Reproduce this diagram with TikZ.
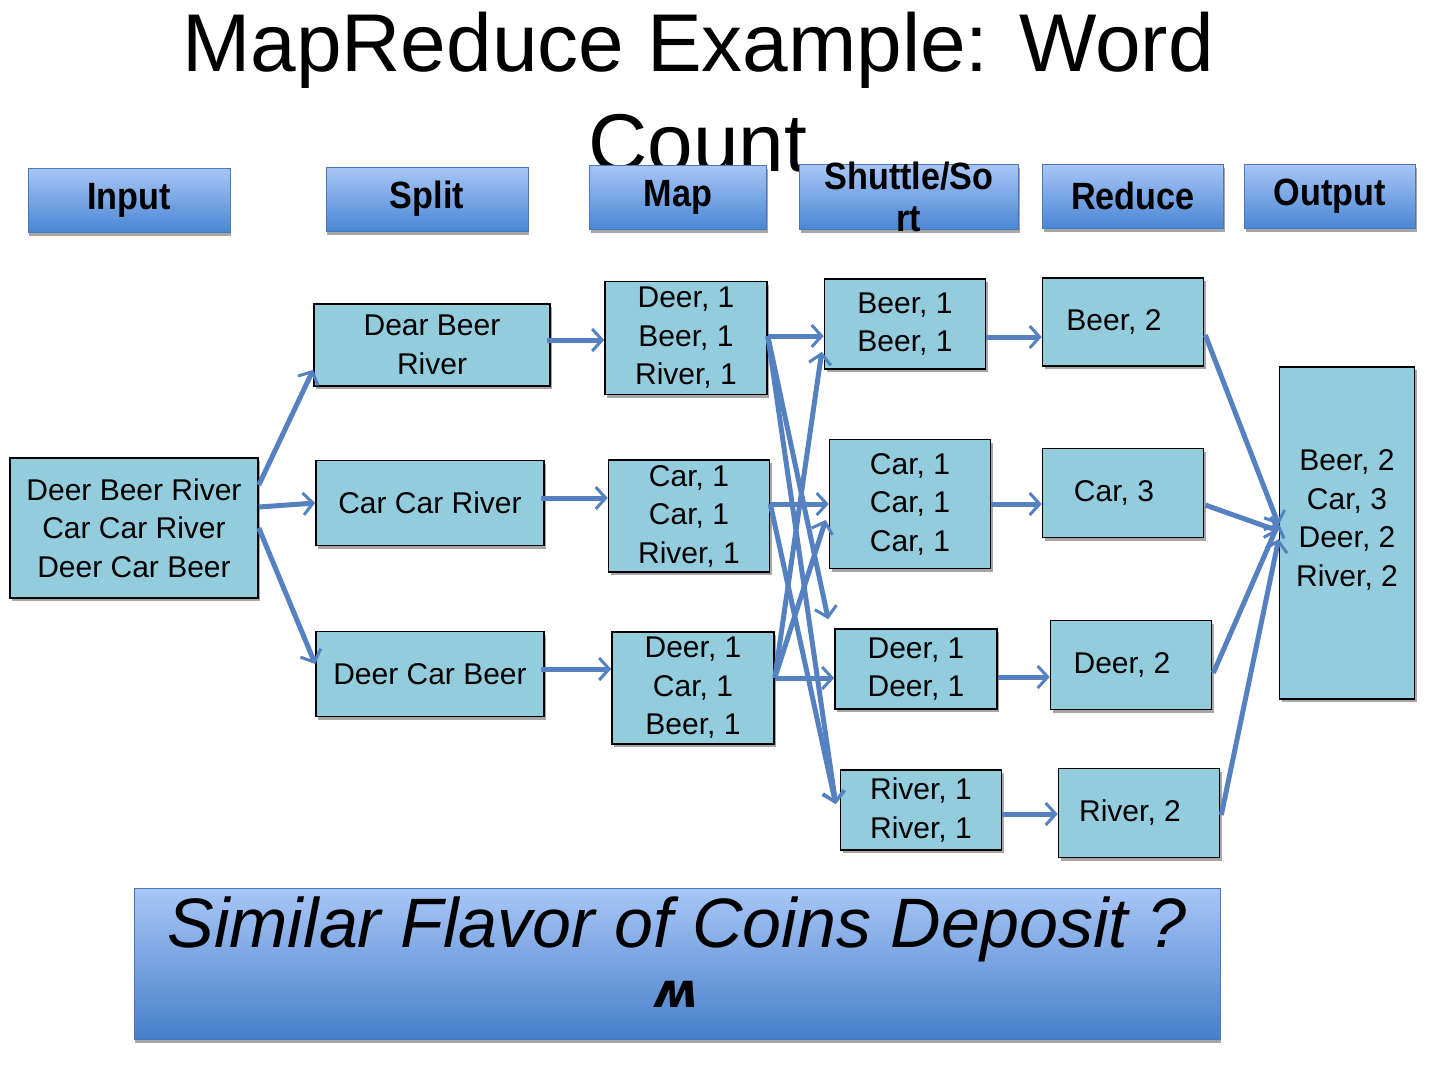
\documentclass[tikz,border=0pt]{standalone}
\usepackage{fontspec}
\setmainfont{Liberation Sans}
\newfontfamily\headfont[FakeStretch=0.9]{Liberation Sans}
\newfontfamily\symfont{DejaVu Sans}
\usetikzlibrary{arrows.meta, shadows, calc}
\definecolor{boxblue}{HTML}{93CDDD}
\definecolor{headtop}{HTML}{A8C6F6}
\definecolor{headbot}{HTML}{4A86D4}
\definecolor{headline}{HTML}{4A78BC}
\definecolor{flowblue}{HTML}{5581C1}

\begin{document}
\begin{tikzpicture}[x=1pt, y=-1pt,
    head/.style={draw=headline, line width=0.8pt, top color=headtop, bottom color=headbot,
        font=\headfont\bfseries\fontsize{38}{42}\selectfont, align=center, inner sep=0,
        general shadow={fill=black!35, shadow xshift=1pt, shadow yshift=-3.5pt}},
    box/.style={draw=black, line width=1.6pt, fill=boxblue, align=center, inner sep=0,
        font=\fontsize{30}{38.5}\selectfont,
        general shadow={fill=black!35, shadow xshift=2pt, shadow yshift=-3pt}},
    flow/.style={flowblue, line width=5pt, -{Straight Barb[length=10pt, width=22pt, line width=3pt]}}
]
    \useasboundingbox (0,0) rectangle (1440,1080);

    % Title (header boxes are drawn over its second line)
    \node[font=\fontsize{82}{100}\selectfont, align=center, inner sep=0] (title) at (698,92) {MapReduce Example: Word\\Count};

    % Stage headers
    \foreach \n/\x/\y/\w/\t in {hin/129/200/202/Input, hsplit/427/199/202/Split, hmap/678/197/177/Map,
                                hred/1133/196/181/Reduce, hout/1330/196/171/Output} {
        \node[head, minimum width=\w, minimum height=64] (\n) at (\x,\y) {\t};
    }
    \node[head, minimum width=219, minimum height=65,
          label={[font=\headfont\bfseries\fontsize{38}{42}\selectfont, align=center]center:Shuttle/So\\rt}] (hsort) at (909,197) {};

    % Input
    \node[box, minimum width=248, minimum height=140] (inp) at (134,528) {Deer Beer River\\Car Car River\\Deer Car Beer};

    % Split
    \node[box, minimum width=236, minimum height=82] (sp1) at (432,345) {Dear Beer\\River};
    \node[box, minimum width=228, minimum height=85] (sp2) at (430,503) {Car Car River};
    \node[box, minimum width=228, minimum height=85] (sp3) at (430,674) {Deer Car Beer};

    % Map
    \node[box, minimum width=162, minimum height=113] (mp1) at (686,338) {Deer, 1\\Beer, 1\\River, 1};
    \node[box, minimum width=161, minimum height=112] (mp2) at (689,516) {Car, 1\\Car, 1\\River, 1};
    \node[box, minimum width=162, minimum height=112] (mp3) at (693,688) {Deer, 1\\Car, 1\\Beer, 1};

    % Shuttle / sort
    \node[box, minimum width=161, minimum height=90] (so1) at (905,324) {Beer, 1\\Beer, 1};
    \node[box, minimum width=161, minimum height=129] (so2) at (910,504) {Car, 1\\Car, 1\\Car, 1};
    \node[box, minimum width=162, minimum height=80] (so3) at (916,669) {Deer, 1\\Deer, 1};
    \node[box, minimum width=161, minimum height=80] (so4) at (921,810) {River, 1\\River, 1};

    % Reduce
    \node[box, minimum width=161, minimum height=88] (re1) at (1123,322) {Beer, 2\hspace{18pt}};
    \node[box, minimum width=161, minimum height=89] (re2) at (1123,493) {Car, 3\hspace{18pt}};
    \node[box, minimum width=161, minimum height=89] (re3) at (1131,665) {Deer, 2\hspace{18pt}};
    \node[box, minimum width=161, minimum height=89] (re4) at (1139,813) {River, 2\hspace{18pt}};

    % Output
    \node[box, minimum width=135, minimum height=332] (out) at (1347,533) {Beer, 2\\Car, 3\\Deer, 2\\River, 2\rule[-30pt]{0pt}{30pt}};

    % Bottom note
    \node[draw=headline, line width=0.8pt, top color=headtop, bottom color=headbot!95!black,
          minimum width=1086, minimum height=151, inner sep=0, align=center,
          font=\itshape\fontsize{70}{60}\selectfont,
          general shadow={fill=black!35, shadow xshift=1pt, shadow yshift=-3.5pt}] (note) at (677,964)
          {Similar Flavor of Coins Deposit ?\\{\symfont\bfseries\itshape\fontsize{48}{48}\selectfont ʍ}\rule[-24pt]{0pt}{24pt}};

    % Input -> split
    \draw[flow] ($(inp.east)+(0,-43)$) -- ($(sp1.south west)+(0,-17)$);
    \draw[flow] ($(inp.east)+(0,-21)$) -- (sp2.west);
    \draw[flow] (inp.east) -- ($(sp3.west)+(0,-10)$);

    % Split -> map
    \foreach \i in {1,2,3} {
        \draw[flow] ($(sp\i.east)+(-4,-5)$) coordinate (t) -- (t -| mp\i.west);
    }

    % Map -> shuttle/sort
    \coordinate (m1) at ($(mp1.east)+(0,-2)$);
    \coordinate (m2) at (mp2.east |- so2.west);
    \coordinate (m3) at ($(mp3.east)+(0,-10)$);
    \draw[flow] (m1) -- (m1 -| so1.west);
    \draw[flow] (m1) -- ($(so3.north west)+(-6,-9)$);
    \draw[flow] (m1) -- ($(so4.west)+(-4,-6)$);
    \draw[flow] (m2) -- (so2.west);
    \draw[flow] (m2) -- ($(so4.west)+(-4,-6)$);
    \draw[flow] (m3) -- ($(so1.south west)+(-2,-18)$);
    \draw[flow] (m3) -- ($(so2.west)+(-3,16)$);
    \draw[flow] (m3) -- (m3 -| so3.west);

    % Shuttle/sort -> reduce
    \foreach \i/\dy in {1/13, 2/0, 3/8, 4/4} {
        \draw[flow] ($(so\i.east)+(0,\dy)$) coordinate (t) -- (t -| re\i.west);
    }

    % Reduce -> output
    \foreach \i/\a/\b in {1/13/-8, 2/12/-2, 3/8/-10, 4/2/6} {
        \draw[flow] ($(re\i.east)+(1,\a)$) -- ($(out.west)+(0,\b)$);
    }
\end{tikzpicture}
\end{document}
